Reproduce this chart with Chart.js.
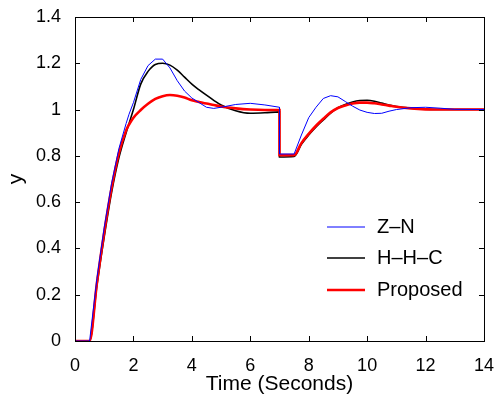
<!DOCTYPE html>
<html>
<head>
<meta charset="utf-8">
<script src="https://cdn.jsdelivr.net/npm/chart.js@4.4.1/dist/chart.umd.min.js"></script>
<style>
  html, body { margin: 0; padding: 0; background: #fff; }
  #wrap { width: 500px; height: 403px; position: relative; }
</style>
</head>
<body>
<div id="wrap"><canvas id="chart"></canvas></div>
<script>
// step response with load disturbance at t = 7 s (time in seconds)
const time = [0, 0.5, 0.75, 1, 1.25, 1.5, 1.75, 1.85, 2, 2.25, 2.5, 2.75, 3, 3.25, 3.5, 3.75,
  4, 4.25, 4.5, 4.75, 5, 5.5, 6, 6.5, 7, 7, 7.5, 7.75, 8, 8.25, 8.5, 8.75, 9, 9.25, 9.5, 9.75,
  10, 10.25, 10.5, 10.75, 11, 11.5, 12, 12.5, 13, 14];

const zn = [0, 0, 0.27, 0.49, 0.68, 0.83, 0.94, 0.98, 1.03, 1.13, 1.19, 1.218, 1.218, 1.18, 1.125, 1.08,
  1.05, 1.03, 1.01, 1.005, 1.01, 1.022, 1.027, 1.02, 1.01, 0.808, 0.808, 0.89, 0.965, 1.01, 1.048, 1.06,
  1.055, 1.035, 1.015, 0.998, 0.988, 0.983, 0.984, 0.993, 1.0, 1.008, 1.01, 1.006, 1.001, 1.0];

const hhc = [0, 0, 0.24, 0.45, 0.64, 0.79, 0.9, 0.94, 1.0, 1.11, 1.165, 1.195, 1.2, 1.192, 1.17, 1.14,
  1.11, 1.085, 1.062, 1.04, 1.02, 0.995, 0.984, 0.986, 0.99, 0.795, 0.797, 0.85, 0.89, 0.925, 0.955, 0.985,
  1.008, 1.022, 1.033, 1.039, 1.04, 1.036, 1.028, 1.02, 1.013, 1.006, 1.002, 1.0, 1.0, 1.0];

const proposed = [0, 0, 0.25, 0.47, 0.66, 0.81, 0.91, 0.935, 0.965, 0.998, 1.025, 1.046, 1.058, 1.063, 1.06, 1.052,
  1.04, 1.033, 1.026, 1.02, 1.013, 1.005, 1.0, 0.998, 0.998, 0.803, 0.803, 0.855, 0.895, 0.93, 0.96, 0.988,
  1.007, 1.018, 1.026, 1.03, 1.03, 1.027, 1.022, 1.017, 1.012, 1.005, 1.001, 1.0, 1.0, 1.0];

const xTicks = [0, 2, 4, 6, 8, 10, 12, 14];
const yTicks = [0, 0.2, 0.4, 0.6, 0.8, 1, 1.2, 1.4];

const FONT = "'Liberation Sans', Arial, Helvetica, sans-serif";
Chart.defaults.font.family = FONT;
Chart.defaults.color = '#000';

const pts = ys => time.map((t, i) => ({ x: t, y: ys[i] }));

// box round the axes, inward ticks on all four sides, legend inside the plot
const frame = {
  id: 'frame',
  afterDraw(chart) {
    const { ctx, chartArea: a, scales: { x, y } } = chart;
    ctx.save();
    ctx.strokeStyle = '#000';
    ctx.lineWidth = 1;
    ctx.strokeRect(a.left + 0.5, a.top + 0.5, a.right - a.left, a.bottom - a.top);
    ctx.beginPath();
    xTicks.forEach(v => {
      const p = Math.round(x.getPixelForValue(v)) + 0.5;
      ctx.moveTo(p, a.bottom); ctx.lineTo(p, a.bottom - 5);
      ctx.moveTo(p, a.top);    ctx.lineTo(p, a.top + 5);
    });
    yTicks.forEach(v => {
      const p = Math.round(y.getPixelForValue(v)) + 0.5;
      ctx.moveTo(a.left, p);  ctx.lineTo(a.left + 5, p);
      ctx.moveTo(a.right, p); ctx.lineTo(a.right - 5, p);
    });
    ctx.stroke();

    // legend
    const rows = [227, 258, 290];
    ctx.font = '20px ' + FONT;
    ctx.textBaseline = 'middle';
    ctx.fillStyle = '#000';
    chart.data.datasets.forEach((ds, i) => {
      ctx.beginPath();
      ctx.strokeStyle = ds.borderColor;
      ctx.lineWidth = ds.borderWidth;
      ctx.moveTo(327, rows[i]); ctx.lineTo(365, rows[i]);
      ctx.stroke();
      ctx.fillText(ds.label, 377, rows[i]);
    });
    ctx.restore();
  }
};

new Chart(document.getElementById('chart'), {
  type: 'line',
  data: {
    datasets: [
      { label: 'Z\u2013N', data: pts(zn), borderColor: '#0000ff', borderWidth: 1, tension: 0, order: 1 },
      { label: 'H\u2013H\u2013C', data: pts(hhc), borderColor: '#000000', borderWidth: 1.6, cubicInterpolationMode: 'monotone', order: 3 },
      { label: 'Proposed', data: pts(proposed), borderColor: '#ff0000', borderWidth: 2.6, cubicInterpolationMode: 'monotone', order: 2 },
    ],
  },
  options: {
    responsive: true,
    maintainAspectRatio: false,
    animation: false,
    elements: { point: { radius: 0 } },
    layout: { padding: { top: 17, right: 14, left: 0, bottom: 0 } },
    scales: {
      x: {
        type: 'linear', min: 0, max: 14,
        afterBuildTicks: s => { s.ticks = xTicks.map(v => ({ value: v })); },
        afterFit: s => { s.height = 62; },
        grid: { display: false },
        border: { display: false },
        ticks: { padding: 6, font: { size: 18 }, maxRotation: 0 },
        title: { display: true, text: 'Time (Seconds)', font: { size: 21 }, padding: { top: 0, bottom: 6 } },
      },
      y: {
        type: 'linear', min: 0, max: 1.4,
        afterBuildTicks: s => { s.ticks = yTicks.map(v => ({ value: v })); },
        afterFit: s => { s.width = 75; },
        grid: { display: false },
        border: { display: false },
        ticks: { padding: 6, font: { size: 18 }, callback: v => String(+v.toFixed(1)) },
        title: { display: true, text: 'y', font: { size: 21 }, padding: { top: 4, bottom: 0 } },
      },
    },
    plugins: {
      legend: { display: false },
      tooltip: { enabled: false },
    },
  },
  plugins: [frame],
});
</script>
</body>
</html>
